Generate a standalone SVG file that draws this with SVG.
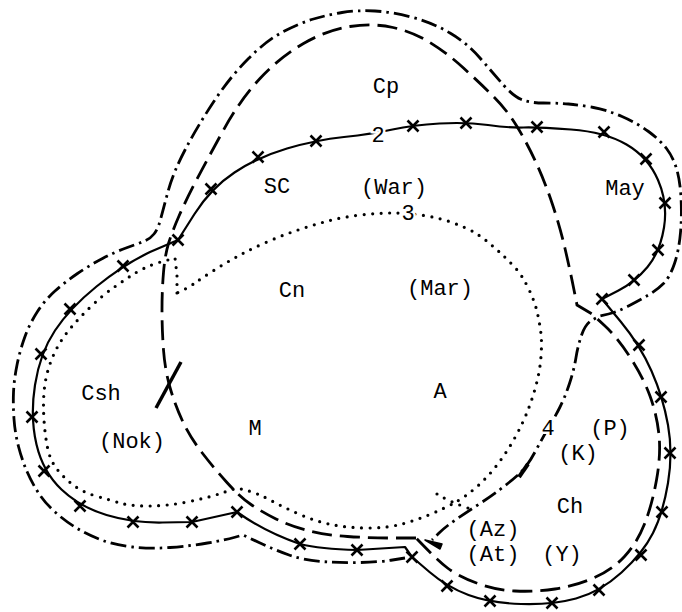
<svg xmlns="http://www.w3.org/2000/svg" xmlns:xlink="http://www.w3.org/1999/xlink" width="682" height="612" viewBox="0 0 682 612">
<defs>
<style>
.solid{fill:none;stroke:#000;stroke-width:2.2;stroke-linejoin:round}
.dash{fill:none;stroke:#000;stroke-width:2.8;stroke-dasharray:20 8}
.dashdot{fill:none;stroke:#000;stroke-width:2.8;stroke-dasharray:16 5 2.5 5}
.dot{fill:none;stroke:#000;stroke-width:3.2;stroke-linecap:round;stroke-dasharray:0 8.5}
.xm{fill:none;stroke:#000;stroke-width:2.6}
text{font-family:"Liberation Mono","Courier New",monospace;font-size:22px;fill:#000;text-anchor:middle}
.halo{paint-order:stroke;stroke:#fff;stroke-width:5px}
</style>
<path id="x" class="xm" d="M-5.5,-5.5L5.5,5.5M-5.5,5.5L5.5,-5.5"/>
</defs>
<rect width="682" height="612" fill="#fff"/>
<g id="connectors">
<g id="boundary-dotted">
<path class="dot" d="M177,293 L177,275 L175,258 L157,263 Q143,268 133,274.5 Q123,281 113,288 Q103,295 91.5,306 Q80,317 71.5,327 Q63,337 57.5,347 Q52,357 48.5,368.5 Q45,380 44,392.5 Q43,405 44,420 Q45,435 47.5,447.5 Q50,460 56.5,468.5 Q63,477 72.5,484.5 Q82,492 96,496 Q110,500 120,503 Q130,506 148.5,506 Q167,506 187,502 Q207,498 222,493 L237,488 L247,490.5 Q257,493 270,500 Q283,507 300,514.5 Q317,522 333.5,525 Q350,528 368.5,528 Q387,528 402,524 Q417,520 431,514 Q445,508 455,502.5 Q465,497 476,487.5 Q487,478 497,465 Q507,452 515,437.5 Q523,423 528,410 Q533,397 536.5,383.5 Q540,370 541,356.5 Q542,343 541,334 Q540,325 537.5,313.5 Q535,302 528.5,288.5 Q522,275 515,267.5 Q508,260 501.5,254 Q495,248 488.5,242.5 Q482,237 474.5,232.5 Q467,228 453.5,223 Q440,218 424,215.5 Q408,213 393,213 Q378,213 360.5,215 Q343,217 328,221 Q313,225 298,230 Q283,235 268,241.5 Q253,248 240,255 Q227,262 214.5,270 Q202,278 195,283 Q188,288 177,293 Z"/>
<path class="dot" d="M437,494 Q450,502 468,508"/>
</g>
<g id="boundary-dashed">
<path class="dash" d="M416,538 L393,538 Q370,538 347.5,536.5 Q325,535 307.5,530.5 Q290,526 276,519 Q262,512 251,504.5 Q240,497 226.5,482 Q213,467 201.5,452 Q190,437 182.5,421 Q175,405 170,387.5 Q165,370 163.5,350 Q162,330 162,310 Q162,290 163.5,272.5 Q165,255 168.5,243.5 Q172,232 179,216 Q186,200 196.5,180 Q207,160 223.5,130 Q240,100 260,78.5 Q280,57 303.5,43.5 Q327,30 350,26.5 Q373,23 393,27.5 Q413,32 430,42.5 Q447,53 463.5,68 Q480,83 493.5,96.5 Q507,110 517,126.5 Q527,143 536,162.5 Q545,182 552.5,204.5 Q560,227 565,248.5 Q570,270 573.5,287.5 L577,305 L592,314 L604.5,325.5 Q617,337 630,357 Q643,377 650,396 Q657,415 659,435 Q661,455 656.5,480 Q652,505 644.5,524 Q637,543 624.5,556.5 Q612,570 593.5,578 Q575,586 555,589 Q535,592 515,591 Q495,590 476.5,583 Q458,576 447.5,568 Q437,560 416,538 Z"/>
</g>
<g id="boundary-dashdot">
<path class="dashdot" d="M405,558 L392.5,560 Q380,562 360,562.5 Q340,563 321.5,561.5 Q303,560 289,555 Q275,550 259,542.5 L243,535 L234,537.5 Q225,540 207.5,543 Q190,546 170,547.5 Q150,549 132.5,547 Q115,545 101.5,540 Q88,535 76.5,528 Q65,521 55,512 Q45,503 38.5,493 Q32,483 27,471.5 Q22,460 18.5,446.5 Q15,433 14,419 Q13,405 13.5,392.5 Q14,380 17,365 Q20,350 25,336.5 Q30,323 37.5,311.5 Q45,300 55,291 Q65,282 77.5,273.5 Q90,265 102.5,258.5 Q115,252 126,248 Q137,244 143.5,241.5 Q150,239 154,234 Q158,229 160.5,219.5 Q163,210 168,191.5 Q173,173 185,150 Q197,127 213.5,102 Q230,77 248.5,58.5 Q267,40 283.5,31.5 Q300,23 313.5,19 Q327,15 342,12.5 Q357,10 375,11 Q393,12 413,17.5 Q433,23 450,33 Q467,43 480,58 Q493,73 503,84.5 Q513,96 521.5,99.5 Q530,103 543.5,103 Q557,103 568.5,104 Q580,105 593.5,107.5 Q607,110 622,116.5 Q637,123 648.5,131.5 Q660,140 666.5,148.5 Q673,157 676.5,168.5 Q680,180 681,197.5 Q682,215 680.5,232.5 Q679,250 674.5,263.5 Q670,277 663.5,283.5 Q657,290 648.5,295 Q640,300 628.5,306 Q617,312 608.5,314 L600,316 L593,319.5 Q586,323 582,334 Q578,345 576,357.5 Q574,370 569.5,383.5 Q565,397 560,407 Q555,417 549,427 Q543,437 535,452 Q527,467 518.5,474.5 Q510,482 500,489.5 Q490,497 478.5,504.5 Q467,512 456,519.5 Q445,527 438.5,533.5 L432,540"/>
<path d="M425,540 L442,544 L440,549 Z" fill="#000" stroke="#000" stroke-width="1.5" stroke-linejoin="round"/>
<path d="M519,477 L528,464" stroke="#000" stroke-width="4" fill="none"/>
</g>
<g id="boundary-solid">
<path class="solid" d="M178,240 L194.5,214 Q211,188 234.5,172.5 Q258,157 287,148.5 Q316,140 344,137 Q372,134 392.5,129.5 Q413,125 439.5,123.5 Q466,122 488,125 Q510,128 523.5,127.5 Q537,127 571,129.5 Q605,132 626.5,144.5 Q648,157 658,180 Q668,203 664,227.5 Q660,252 647.5,267 Q635,282 618.5,290.5 L602,299 L621,322 Q640,345 651.5,371 Q663,397 668,425 Q673,453 668,483 Q663,513 653,533 Q643,553 621.5,572.5 Q600,592 576,598.5 Q552,605 521,604 Q490,603 468.5,595 Q447,587 429.5,572 L412,557 L405,547 L357,550 Q320,549 300,544 Q265,532 237,512 L192,522 L162.5,522.5 Q133,523 106.5,515 Q80,507 61.5,489.5 Q43,472 36.5,444.5 Q30,417 35,385 Q40,353 55,330.5 Q70,308 96.5,286.5 Q123,265 150,252 L178,240 Z"/>
<path d="M156,408 L181,362" stroke="#000" stroke-width="3.5" fill="none"/>
<use xlink:href="#x" x="178" y="240"/>
<use xlink:href="#x" x="211" y="189"/>
<use xlink:href="#x" x="258" y="157"/>
<use xlink:href="#x" x="316" y="141"/>
<use xlink:href="#x" x="413" y="126"/>
<use xlink:href="#x" x="466" y="123"/>
<use xlink:href="#x" x="537" y="127"/>
<use xlink:href="#x" x="604" y="132"/>
<use xlink:href="#x" x="646" y="159"/>
<use xlink:href="#x" x="665" y="203"/>
<use xlink:href="#x" x="658" y="250"/>
<use xlink:href="#x" x="634" y="280"/>
<use xlink:href="#x" x="602" y="299"/>
<use xlink:href="#x" x="639" y="345"/>
<use xlink:href="#x" x="661" y="397"/>
<use xlink:href="#x" x="670" y="453"/>
<use xlink:href="#x" x="662" y="512"/>
<use xlink:href="#x" x="641" y="555"/>
<use xlink:href="#x" x="599" y="590"/>
<use xlink:href="#x" x="552" y="603"/>
<use xlink:href="#x" x="490" y="601"/>
<use xlink:href="#x" x="447" y="586"/>
<use xlink:href="#x" x="412" y="557"/>
<use xlink:href="#x" x="357" y="550"/>
<use xlink:href="#x" x="300" y="544"/>
<use xlink:href="#x" x="237" y="512"/>
<use xlink:href="#x" x="192" y="522"/>
<use xlink:href="#x" x="133" y="522"/>
<use xlink:href="#x" x="80" y="506"/>
<use xlink:href="#x" x="44" y="471"/>
<use xlink:href="#x" x="32" y="417"/>
<use xlink:href="#x" x="41" y="354"/>
<use xlink:href="#x" x="70" y="309"/>
<use xlink:href="#x" x="123" y="266"/>
</g>
</g>
<g id="labels">
<g id="n-Cp"><text x="386" y="93">Cp</text></g>
<g id="n-2"><text class="halo" x="378" y="142">2</text></g>
<g id="n-SC"><text x="277" y="193">SC</text></g>
<g id="n-War"><text x="394" y="194">(War)</text></g>
<g id="n-3"><text class="halo" x="408" y="220">3</text></g>
<g id="n-May"><text x="625" y="195">May</text></g>
<g id="n-Cn"><text x="292" y="297">Cn</text></g>
<g id="n-Mar"><text x="440" y="295">(Mar)</text></g>
<g id="n-A"><text x="440" y="398">A</text></g>
<g id="n-Csh"><text x="101" y="400">Csh</text></g>
<g id="n-Nok"><text x="132" y="448">(Nok)</text></g>
<g id="n-M"><text x="255" y="435">M</text></g>
<g id="n-4"><text class="halo" x="548" y="435">4</text></g>
<g id="n-P"><text x="610" y="435">(P)</text></g>
<g id="n-K"><text x="578" y="460">(K)</text></g>
<g id="n-Ch"><text x="570" y="513">Ch</text></g>
<g id="n-Az"><text x="493" y="536">(Az)</text></g>
<g id="n-At"><text x="493" y="561">(At)</text></g>
<g id="n-Y"><text x="562" y="561">(Y)</text></g>
</g>
</svg>
